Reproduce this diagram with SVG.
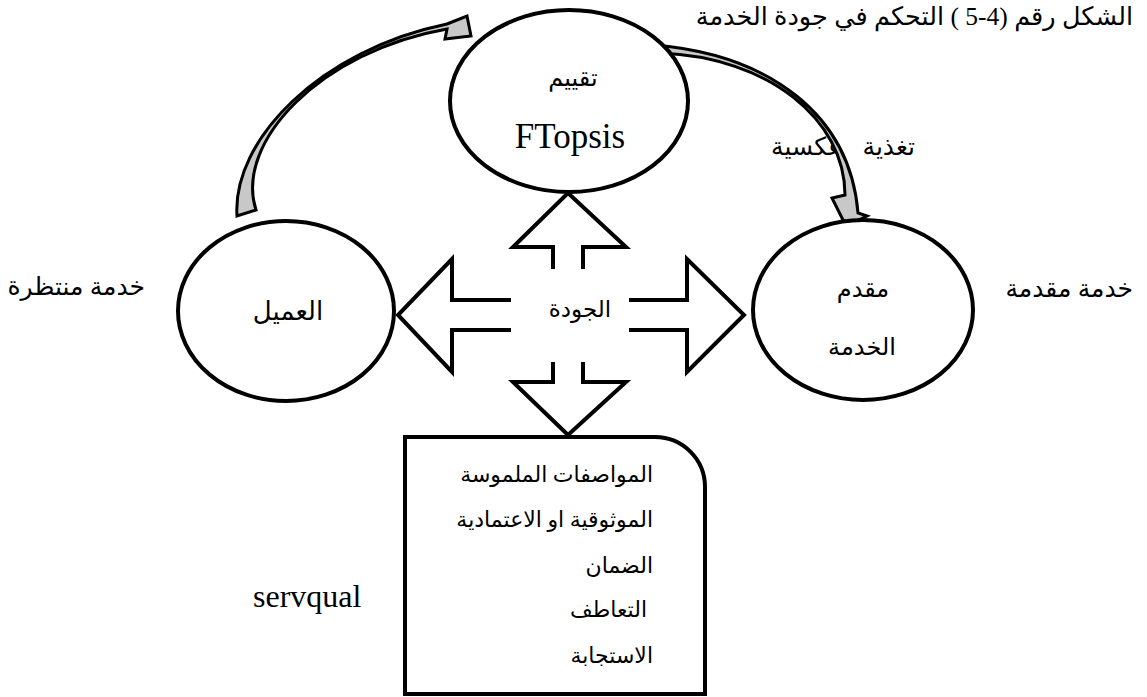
<svg xmlns="http://www.w3.org/2000/svg" width="1147" height="697" viewBox="0 0 1147 697">
<style>
.ar{font-family:"Liberation Serif","DejaVu Sans",serif;fill:#000}
.lat{font-family:"Liberation Serif","DejaVu Serif",serif;fill:#000}
.node{fill:#fff;stroke:#000;stroke-width:4}
.blk{fill:none;stroke:#000;stroke-width:4;stroke-linejoin:miter}
.curve{fill:#c8c8c8;stroke:#000;stroke-width:3;stroke-linejoin:miter}
</style>
<rect width="1147" height="697" fill="#fff"/>
<g id="title">
<text class="ar" x="1133" y="25" font-size="25.5" direction="rtl" text-anchor="start">الشكل رقم (4-5 ) التحكم في جودة الخدمة</text>
</g>
<g id="label-feedback">
<text class="ar" font-size="25" text-anchor="end"><tspan x="915" y="155">تغذية</tspan><tspan x="843" y="155">عكسية</tspan></text>
</g>
<g id="connectors">
<path class="curve" d="M 237,216 C 232,140 320,50 447,24 L 467,16 L 471,36 L 445,39 L 447,29 C 321,51 234,142 256,210 Z"/>
<path class="curve" d="M 655,45 C 770,55 850,115 858,213 L 867,216 L 846,226 L 832,198 L 845,195 C 845,120 769,57 660,53 Z"/>
<polyline class="blk" points="553,269 553,247 513,247 568,193 626,247 583,247 583,269"/>
<polyline class="blk" points="553,362 553,382 513,382 568,435 626,382 583,382 583,362"/>
<polyline class="blk" points="511,300 452,300 452,259 398,315 452,372 452,330 511,330"/>
<polyline class="blk" points="629,300 687,300 687,259 744,315 687,372 687,330 629,330"/>
</g>
<g id="node-top">
<ellipse class="node" cx="569" cy="101" rx="119" ry="91"/>
<text class="ar" x="573" y="86" font-size="24" text-anchor="middle">تقييم</text>
<text class="lat" x="570" y="148" font-size="35" text-anchor="middle">FTopsis</text>
</g>
<g id="node-client">
<ellipse class="node" cx="286" cy="311" rx="108" ry="90"/>
<text class="ar" x="288" y="320" font-size="26" text-anchor="middle">العميل</text>
</g>
<g id="node-provider">
<ellipse class="node" cx="863" cy="310" rx="110" ry="90"/>
<text class="ar" x="863" y="297" font-size="24" text-anchor="middle">مقدم</text>
<text class="ar" x="862" y="355" font-size="24" text-anchor="middle">الخدمة</text>
</g>
<g id="node-quality">
<text class="ar" x="580" y="317" font-size="23" text-anchor="middle">الجودة</text>
</g>
<g id="node-servqual">
<path class="node" d="M 405,437 H 655 A 50 50 0 0 1 705,487 V 694 H 405 Z"/>
<text class="ar" x="653" y="482" font-size="22" text-anchor="end">المواصفات الملموسة</text>
<text class="ar" x="653" y="527" font-size="22" text-anchor="end">الموثوقية او الاعتمادية</text>
<text class="ar" x="653" y="573" font-size="22" text-anchor="end">الضمان</text>
<text class="ar" x="647" y="617" font-size="22" text-anchor="end">التعاطف</text>
<text class="ar" x="653" y="663" font-size="22" text-anchor="end">الاستجابة</text>
</g>
<g id="label-servqual">
<text class="lat" x="253" y="607" font-size="32">servqual</text>
</g>
<g id="label-waiting">
<text class="ar" x="145" y="295" font-size="25" text-anchor="end">خدمة منتظرة</text>
</g>
<g id="label-delivered">
<text class="ar" x="1133" y="297" font-size="25" text-anchor="end">خدمة مقدمة</text>
</g>
</svg>
